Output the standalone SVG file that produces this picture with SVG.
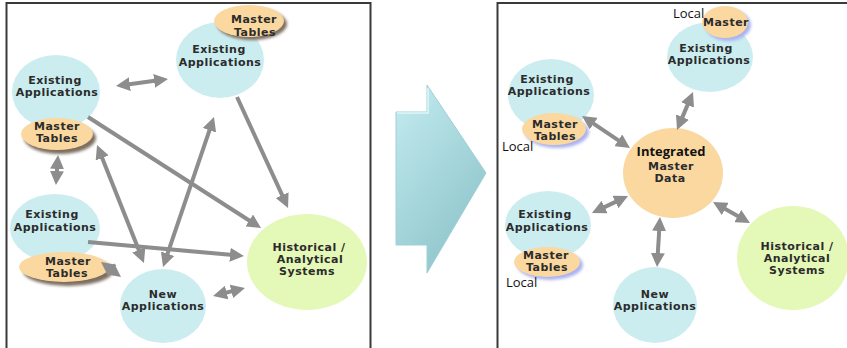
<svg xmlns="http://www.w3.org/2000/svg" width="847" height="348" viewBox="0 0 847 348">
  <style>
    .app { fill: #cbedf0; }
    .mt { fill: #fad8a0; }
    .hist { fill: #e4f8b8; }
    .lbl { font-family: "DejaVu Sans", "Liberation Sans", sans-serif; font-weight: bold; font-size: 11px; letter-spacing: 0.5px; fill: #2b2b2b; text-anchor: middle; }
    .loc { font-family: "Open Sans", "Noto Sans", sans-serif; font-size: 13px; fill: #111; }
    .big { font-family: "Open Sans", "Noto Sans", sans-serif; font-weight: bold; font-size: 13px; fill: #111; text-anchor: middle; }
    .frame { fill: none; stroke: #3a3a3a; stroke-width: 2; }
    .link { stroke: #8d8d8d; stroke-width: 4; fill: none; }
    .one { marker-end: url(#head); }
    .two { marker-start: url(#head); marker-end: url(#head); }
    .shadowDark { fill: #7d6e60; filter: url(#soft); }
    .shadowBlue { fill: #aab3f0; filter: url(#soft); }
  </style>
  <defs>
    <marker id="head" viewBox="0 0 14 14" refX="6" refY="7" markerWidth="14" markerHeight="14" markerUnits="userSpaceOnUse" orient="auto-start-reverse">
      <path d="M0,0 L14,7 L0,14 z" fill="#8d8d8d"/>
    </marker>
    <filter id="soft" x="-20%" y="-20%" width="140%" height="140%">
      <feGaussianBlur stdDeviation="1.5"/>
    </filter>
    <linearGradient id="bigArrow" x1="0" y1="0" x2="0.6" y2="1">
      <stop offset="0" stop-color="#c4ecf0"/>
      <stop offset="1" stop-color="#8ec5cb"/>
    </linearGradient>
  </defs>

  <rect width="847" height="348" fill="#ffffff"/>

  <!-- panel frames -->
  <path class="frame" d="M6.5,348 V3 H370.5 V348"/>
  <path class="frame" d="M497.5,348 V3 H847"/>

  <!-- left panel: point-to-point landscape -->
  <g id="l-ea-top">
    <ellipse class="app" cx="220" cy="60" rx="44" ry="38"/>
    <text class="lbl" x="219" y="53">Existing</text>
    <text class="lbl" x="220" y="66">Applications</text>
  </g>
  <g id="l-mt-top">
    <ellipse class="shadowDark" cx="252" cy="24" rx="35" ry="16"/>
    <ellipse class="mt" cx="249" cy="21" rx="35" ry="16"/>
    <text class="lbl" x="254" y="23">Master</text>
    <text class="lbl" x="255" y="36">Tables</text>
  </g>
  <g id="l-ea-left">
    <ellipse class="app" cx="56" cy="92" rx="44" ry="37"/>
    <text class="lbl" x="55" y="84">Existing</text>
    <text class="lbl" x="57" y="96">Applications</text>
  </g>
  <g id="l-mt-left">
    <ellipse class="shadowDark" cx="60" cy="138" rx="36" ry="16"/>
    <ellipse class="mt" cx="57" cy="134" rx="36" ry="16"/>
    <text class="lbl" x="57" y="130">Master</text>
    <text class="lbl" x="57" y="142">Tables</text>
  </g>
  <g id="l-ea-bottom">
    <ellipse class="app" cx="55" cy="228" rx="45" ry="34"/>
    <text class="lbl" x="52" y="218">Existing</text>
    <text class="lbl" x="55" y="231">Applications</text>
  </g>
  <g id="l-mt-bottom">
    <ellipse class="shadowDark" cx="68" cy="271" rx="45" ry="15"/>
    <ellipse class="mt" cx="64" cy="267" rx="45" ry="15"/>
    <text class="lbl" x="68" y="265">Master</text>
    <text class="lbl" x="67" y="277">Tables</text>
  </g>
  <g id="l-new">
    <ellipse class="app" cx="163" cy="306" rx="43" ry="37"/>
    <text class="lbl" x="163" y="298">New</text>
    <text class="lbl" x="163" y="310">Applications</text>
  </g>
  <g id="l-hist">
    <ellipse class="hist" cx="307" cy="262" rx="60" ry="48"/>
    <text class="lbl" x="309" y="251">Historical /</text>
    <text class="lbl" x="310" y="263">Analytical</text>
    <text class="lbl" x="307" y="275">Systems</text>
  </g>

  <g id="l-links">
    <line class="link two" x1="123.9" y1="84.9" x2="160.1" y2="80.1"/>
    <line class="link one" x1="88" y1="117" x2="254.3" y2="223.7"/>
    <line class="link one" x1="237" y1="97" x2="284.7" y2="200.7"/>
    <line class="link two" x1="57.5" y1="163" x2="56.5" y2="177"/>
    <line class="link two" x1="100" y1="152.4" x2="141" y2="255.6"/>
    <line class="link two" x1="211.4" y1="124.6" x2="165.6" y2="259.4"/>
    <line class="link one" x1="88" y1="242" x2="236" y2="255.3"/>
    <line class="link two" x1="107.4" y1="266.8" x2="114.6" y2="272.2"/>
    <line class="link two" x1="220.8" y1="294" x2="237.2" y2="289.9"/>
  </g>

  <!-- transition arrow -->
  <g id="transition">
    <polygon points="396,112 427,112 427,85 486,173 427,273 427,245 396,245" fill="url(#bigArrow)" stroke="#9fd0d5" stroke-width="1"/>
    <polyline points="397,113 428,113 428,88" fill="none" stroke="#dff6f8" stroke-width="1.5"/>
  </g>

  <!-- right panel: hub landscape -->
  <g id="r-ea-top">
    <ellipse class="app" cx="710" cy="57" rx="43" ry="35"/>
    <text class="lbl" x="706" y="52">Existing</text>
    <text class="lbl" x="709" y="64">Applications</text>
  </g>
  <g id="r-mt-top">
    <ellipse class="shadowBlue" cx="728" cy="25" rx="23" ry="16"/>
    <ellipse class="mt" cx="725" cy="22" rx="23" ry="16"/>
    <text class="lbl" x="726" y="26">Master</text>
    <text class="loc" x="673" y="18">Local</text>
  </g>
  <g id="r-ea-left">
    <ellipse class="app" cx="551" cy="95" rx="43" ry="36"/>
    <text class="lbl" x="547" y="83">Existing</text>
    <text class="lbl" x="549" y="95">Applications</text>
  </g>
  <g id="r-mt-left">
    <ellipse class="shadowBlue" cx="557" cy="132" rx="32" ry="16"/>
    <ellipse class="mt" cx="554" cy="129" rx="32" ry="16"/>
    <text class="lbl" x="555" y="128">Master</text>
    <text class="lbl" x="555" y="140">Tables</text>
    <text class="loc" x="502" y="151">Local</text>
  </g>
  <g id="r-hub">
    <ellipse class="mt" cx="673" cy="173" rx="50" ry="45"/>
    <text class="big" x="671" y="156">Integrated</text>
    <text class="lbl" x="671" y="170">Master</text>
    <text class="lbl" x="670" y="182">Data</text>
  </g>
  <g id="r-ea-bottom">
    <ellipse class="app" cx="548" cy="225" rx="43" ry="34"/>
    <text class="lbl" x="545" y="218">Existing</text>
    <text class="lbl" x="547" y="231">Applications</text>
  </g>
  <g id="r-mt-bottom">
    <ellipse class="shadowBlue" cx="550" cy="265" rx="33" ry="15"/>
    <ellipse class="mt" cx="547" cy="262" rx="33" ry="15"/>
    <text class="lbl" x="546" y="259">Master</text>
    <text class="lbl" x="547" y="271">Tables</text>
    <text class="loc" x="506" y="287">Local</text>
  </g>
  <g id="r-new">
    <ellipse class="app" cx="655" cy="305" rx="42" ry="38"/>
    <text class="lbl" x="655" y="298">New</text>
    <text class="lbl" x="655" y="310">Applications</text>
  </g>
  <g id="r-hist">
    <ellipse class="hist" cx="793" cy="258" rx="56" ry="52"/>
    <text class="lbl" x="797" y="250">Historical /</text>
    <text class="lbl" x="797" y="262">Analytical</text>
    <text class="lbl" x="797" y="274">Systems</text>
  </g>

  <g id="r-links">
    <line class="link two" x1="588.7" y1="120.4" x2="623.3" y2="143.6"/>
    <line class="link two" x1="689.9" y1="99.4" x2="680.1" y2="122.6"/>
    <line class="link two" x1="599.2" y1="209.6" x2="620.8" y2="199.4"/>
    <line class="link two" x1="659.5" y1="225" x2="657.5" y2="259"/>
    <line class="link two" x1="720" y1="206" x2="743" y2="219"/>
  </g>
</svg>
